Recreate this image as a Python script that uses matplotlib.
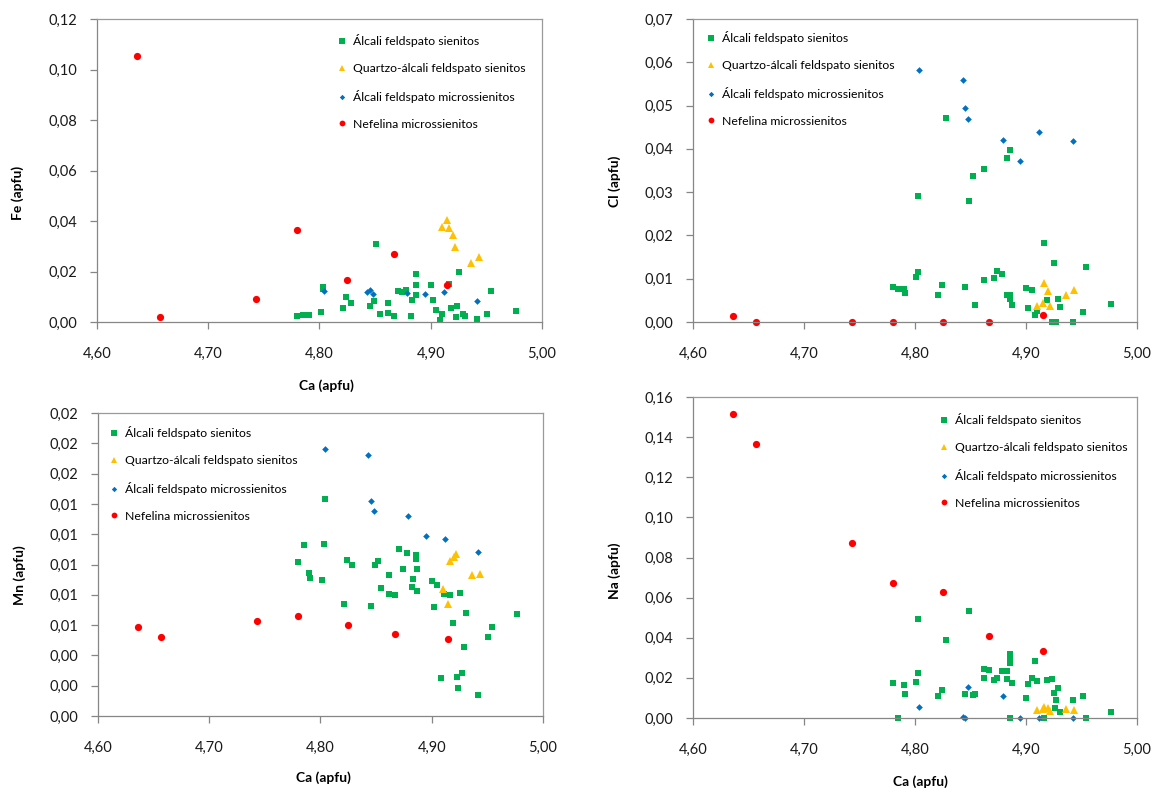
import matplotlib
matplotlib.use("Agg")
import matplotlib.pyplot as plt
import numpy as np
from matplotlib.ticker import FuncFormatter

plt.rcParams["font.family"] = ["Lato", "DejaVu Sans"]

W, H = 1163, 792

# series names and colours
LABELS = ["Álcali feldspato sienitos", "Quartzo-álcali feldspato sienitos",
          "Álcali feldspato microssienitos", "Nefelina microssienitos"]
COLORS = ["#00B050", "#FFC000", "#0070C0", "#FF0000"]

# Quartzo-álcali feldspato sienitos (shared Ca)
QTZ_CA = [4.910, 4.915, 4.916, 4.920, 4.922, 4.936, 4.943]
QTZ_FE = [0.0376, 0.0403, 0.0372, 0.0343, 0.0297, 0.0235, 0.0257]
QTZ_CL = [0.0038, 0.0045, 0.0089, 0.0072, 0.0038, 0.0062, 0.0075]
QTZ_MN = [0.0084, 0.0074, 0.0102, 0.0105, 0.0107, 0.0093, 0.0094]
QTZ_NA = [0.0042, 0.0045, 0.0055, 0.0050, 0.0033, 0.0047, 0.0042]

# Álcali feldspato microssienitos (shared Ca)
MIC_CA = [4.804, 4.843, 4.845, 4.848, 4.879, 4.895, 4.912, 4.942]
MIC_FE = [0.0121, 0.0117, 0.0128, 0.0110, 0.0115, 0.0110, 0.0120, 0.0084]
MIC_CL = [0.0582, 0.0559, 0.0495, 0.0470, 0.0420, 0.0372, 0.0438, 0.0419]
MIC_MN = [0.0176, 0.0172, 0.0142, 0.0135, 0.0132, 0.0119, 0.0117, 0.0108]
MIC_NA = [0.0055, 0.0003, 0.0, 0.0153, 0.0108, 0.0, 0.0, 0.0]

# Nefelina microssienitos (shared Ca)
NEF_CA = [4.636, 4.657, 4.743, 4.780, 4.825, 4.867, 4.915]
NEF_FE = [0.1055, 0.0021, 0.0090, 0.0366, 0.0166, 0.0268, 0.0145]
NEF_CL = [0.0015, 0.0, 0.0, 0.0, 0.0, 0.0, 0.0017]
NEF_MN = [0.0059, 0.0052, 0.0063, 0.0066, 0.0060, 0.0054, 0.0051]
NEF_NA = [0.1517, 0.1364, 0.0874, 0.0673, 0.0628, 0.0409, 0.0336]

# Álcali feldspato sienitos, read per panel
ALK_CA_FE = [4.780, 4.785, 4.788, 4.791, 4.801, 4.803, 4.803, 4.821, 4.824, 4.828,
             4.845, 4.849, 4.851, 4.854, 4.862, 4.862, 4.867, 4.871, 4.874, 4.878,
             4.882, 4.883, 4.887, 4.887, 4.887, 4.900, 4.902, 4.905, 4.908, 4.910,
             4.916, 4.918, 4.924, 4.925, 4.923, 4.929, 4.931, 4.942, 4.951, 4.954,
             4.977]
ALK_FE = [0.0025, 0.0029, 0.0029, 0.0029, 0.0040, 0.0139, 0.0131, 0.0054, 0.0098, 0.0077,
          0.0065, 0.0083, 0.0309, 0.0033, 0.0077, 0.0036, 0.0022, 0.0123, 0.0117, 0.0125,
          0.0025, 0.0087, 0.0191, 0.0147, 0.0106, 0.0148, 0.0086, 0.0046, 0.0007, 0.0033,
          0.0152, 0.0054, 0.0062, 0.0199, 0.0020, 0.0033, 0.0022, 0.0011, 0.0033, 0.0123,
          0.0042]

ALK_CA_CL = [4.780, 4.785, 4.790, 4.791, 4.801, 4.803, 4.803, 4.821, 4.824, 4.828,
             4.845, 4.849, 4.852, 4.854, 4.862, 4.862, 4.871, 4.874, 4.878, 4.883,
             4.883, 4.886, 4.886, 4.886, 4.887, 4.900, 4.902, 4.905, 4.908, 4.910,
             4.916, 4.919, 4.923, 4.925, 4.927, 4.929, 4.931, 4.942, 4.951, 4.954,
             4.977]
ALK_CL = [0.0082, 0.0076, 0.0076, 0.0068, 0.0104, 0.0290, 0.0116, 0.0062, 0.0085, 0.0471,
          0.0081, 0.0280, 0.0337, 0.0040, 0.0354, 0.0098, 0.0102, 0.0118, 0.0110, 0.0380,
          0.0063, 0.0397, 0.0063, 0.0054, 0.0039, 0.0079, 0.0032, 0.0074, 0.0017, 0.0025,
          0.0182, 0.0050, 0.0, 0.0136, 0.0, 0.0053, 0.0035, 0.0, 0.0023, 0.0127,
          0.0042]

ALK_CA_MN = [4.780, 4.785, 4.790, 4.791, 4.801, 4.803, 4.804, 4.821, 4.824, 4.828,
             4.845, 4.849, 4.852, 4.854, 4.862, 4.862, 4.867, 4.871, 4.874, 4.878,
             4.882, 4.883, 4.886, 4.886, 4.887, 4.887, 4.900, 4.902, 4.905, 4.908,
             4.911, 4.916, 4.919, 4.923, 4.924, 4.925, 4.927, 4.929, 4.931, 4.942,
             4.951, 4.954, 4.977]
ALK_MN = [0.01015, 0.01126, 0.00943, 0.00914, 0.00899, 0.01137, 0.01434, 0.00738, 0.01029, 0.00998,
          0.00729, 0.00998, 0.01022, 0.00846, 0.00932, 0.00806, 0.00797, 0.01101, 0.00967, 0.01077,
          0.00852, 0.00905, 0.01064, 0.01035, 0.00822, 0.00967, 0.00890, 0.00718, 0.00866, 0.00251,
          0.00804, 0.00797, 0.00617, 0.00258, 0.00185, 0.00811, 0.00282, 0.00458, 0.00683, 0.00141,
          0.00524, 0.00590, 0.00676]

ALK_CA_NA = [4.780, 4.785, 4.790, 4.791, 4.801, 4.803, 4.803, 4.821, 4.824, 4.828,
             4.845, 4.849, 4.852, 4.854, 4.862, 4.862, 4.867, 4.871, 4.874, 4.878,
             4.883, 4.883, 4.886, 4.886, 4.886, 4.887, 4.886, 4.900, 4.902, 4.905,
             4.908, 4.910, 4.916, 4.919, 4.923, 4.925, 4.927, 4.926, 4.929, 4.931,
             4.942, 4.951, 4.954, 4.977]
ALK_NA = [0.0174, 0.0, 0.0163, 0.0120, 0.0179, 0.0493, 0.0223, 0.0108, 0.0141, 0.0387,
          0.0120, 0.0532, 0.0116, 0.0120, 0.0246, 0.0199, 0.0238, 0.0191, 0.0201, 0.0234,
          0.0234, 0.0194, 0.0321, 0.0304, 0.0274, 0.0174, 0.0, 0.0101, 0.0171, 0.0201,
          0.0284, 0.0184, 0.0, 0.0191, 0.0194, 0.0125, 0.0088, 0.0050, 0.0150, 0.0030,
          0.0091, 0.0110, 0.0, 0.0030]

MARKERS = [("s", 4.6), ("^", 5.2), ("D", 3.4), ("o", 5.2)]


def rect(x0, y0, x1, y1):
    return [x0 / W, 1 - y1 / H, (x1 - x0) / W, (y1 - y0) / H]


def fmt(v, pos):
    return f"{v:.2f}".replace(".", ",")


fig = plt.figure(figsize=(W / 100, H / 100), dpi=100)


def panel(box, series, ymax, ystep, ylabel, ylab_xy, xlab_xy, leg_xy):
    ax = fig.add_axes(rect(*box))
    for (xs, ys), (m, ms), c, lab in zip(series, MARKERS, COLORS, LABELS):
        ax.plot(xs, ys, linestyle="none", marker=m, ms=ms, color=c,
                mec=c, mew=0, label=lab, clip_on=False)
    ax.set_xlim(4.6, 5.0)
    ax.set_ylim(0, ymax)
    ax.set_xticks(np.arange(4.6, 5.0001, 0.1))
    ax.set_yticks(np.arange(0, ymax + ystep / 2, ystep))
    ax.xaxis.set_major_formatter(FuncFormatter(fmt))
    ax.yaxis.set_major_formatter(FuncFormatter(fmt))
    for s in ax.spines.values():
        s.set_color("#9a9a9a")
        s.set_linewidth(0.9)
    ax.spines["left"].set_color("#868686")
    ax.spines["bottom"].set_color("#868686")
    ax.tick_params(axis="both", direction="out", length=5, width=0.9,
                   color="#868686", labelsize=10.5, labelcolor="#1a1a1a")
    ax.tick_params(axis="y", pad=9)
    ax.tick_params(axis="x", pad=13)
    fig.text(ylab_xy[0] / W, 1 - ylab_xy[1] / H, ylabel, rotation=90,
             ha="center", va="center", fontsize=10, fontweight="bold")
    if xlab_xy is not None:
        fig.text(xlab_xy[0] / W, 1 - xlab_xy[1] / H, "Ca (apfu)",
                 ha="center", va="center", fontsize=10, fontweight="bold")
    ax.legend(loc="upper left", bbox_to_anchor=(leg_xy[0] / W, 1 - leg_xy[1] / H),
              bbox_transform=fig.transFigure, frameon=False, fontsize=8.8,
              handlelength=0.7, handletextpad=0.5, labelspacing=1.3,
              borderpad=0, borderaxespad=0, markerscale=0.8)
    return ax


panel((97, 19, 542, 322),
      [(ALK_CA_FE, ALK_FE), (QTZ_CA, QTZ_FE), (MIC_CA, MIC_FE), (NEF_CA, NEF_FE)],
      0.12, 0.02, "Fe (apfu)", (18, 193), (326, 386), (338, 34))
panel((693, 19, 1137, 322),
      [(ALK_CA_CL, ALK_CL), (QTZ_CA, QTZ_CL), (MIC_CA, MIC_CL), (NEF_CA, NEF_CL)],
      0.07, 0.01, "Cl (apfu)", (615, 181), None, (707, 31))
panel((98, 413, 543, 716),
      [(ALK_CA_MN, ALK_MN), (QTZ_CA, QTZ_MN), (MIC_CA, MIC_MN), (NEF_CA, NEF_MN)],
      0.02, 0.002, "Mn (apfu)", (20, 575), (323, 778), (110, 426))
panel((693, 397, 1137, 718),
      [(ALK_CA_NA, ALK_NA), (QTZ_CA, QTZ_NA), (MIC_CA, MIC_NA), (NEF_CA, NEF_NA)],
      0.16, 0.02, "Na (apfu)", (615, 571), (920, 782), (940, 413))

fig.savefig("out.png", dpi=100)
